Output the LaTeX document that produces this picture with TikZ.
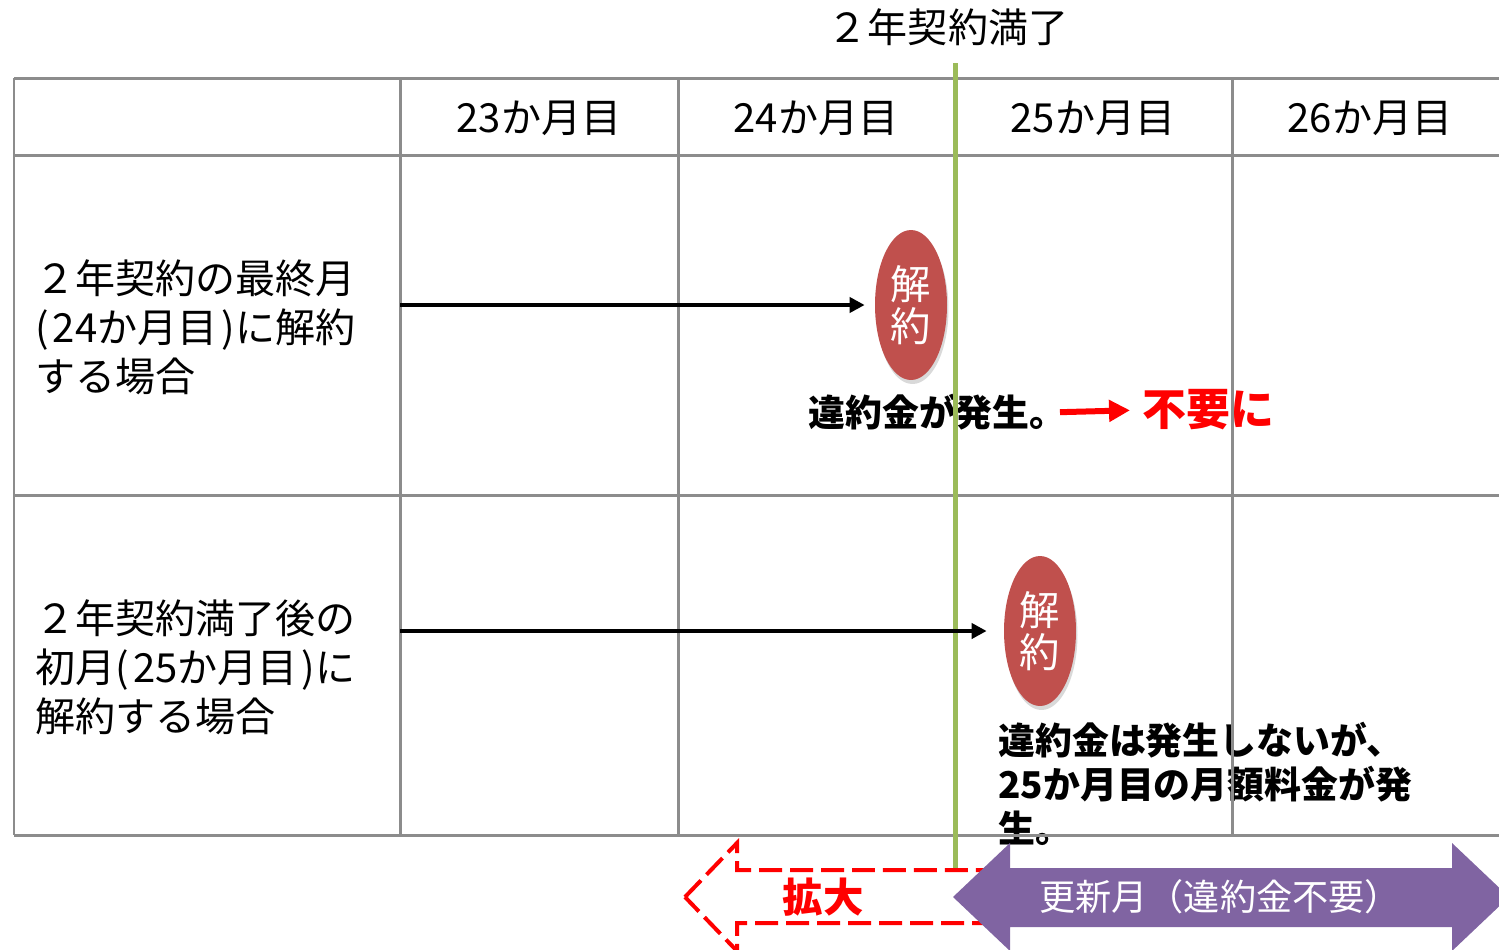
\documentclass[tikz,border=0pt]{standalone}
\usepackage{fontspec}
\setmainfont{Noto Sans CJK JP}
\usepackage{tikz}
\usetikzlibrary{positioning, calc, arrows.meta, shapes.geometric, shadows}
\definecolor{GridColor}{RGB}{140,140,140}
\definecolor{LimitColor}{RGB}{155,187,89}
\definecolor{CancelColor}{RGB}{192,80,77}
\definecolor{RenewColor}{RGB}{128,100,162}
\definecolor{AlertColor}{RGB}{255,0,0}
\tikzset{
    grid line/.style={draw=GridColor, line width=0.06cm},
    head text/.style={font=\fontsize{22.8}{27}\selectfont, inner sep=0pt},
    row text/.style={font=\fontsize{22.8}{28}\selectfont, align=left, anchor=west, inner sep=0pt},
    cancel/.style={
        ellipse,
        fill=CancelColor,
        text=white,
        minimum width=1.44cm,
        minimum height=3cm,
        inner sep=0pt,
        align=center,
        font=\fontsize{23}{24}\selectfont,
        drop shadow={shadow xshift=0.03cm, shadow yshift=-0.08cm, opacity=0.3}
    },
    flow/.style={-{Triangle[length=0.3cm, width=0.3cm]}, line width=0.08cm},
    alert flow/.style={-{Triangle[length=0.42cm, width=0.42cm]}, draw=AlertColor, line width=0.12cm},
    note/.style={font=\bfseries\fontsize{21}{25}\selectfont, inner sep=0pt, anchor=west, align=left}
}

\begin{document}
\begin{tikzpicture}[x=0.02cm, y=-0.02cm]
\clip (0,0) rectangle (1499,950);

% Title
\node[head text] (title) at (948,27) {２年契約満了};

% Notes (under the grid)
\node[note] (n_fee) at (808,412) {違約金が発生。};
\node[font=\bfseries\fontsize{25}{30}\selectfont, text=AlertColor, inner sep=0pt, anchor=west] (n_free) at (1142,410) {不要に};
\draw[alert flow, shorten <=-0.14cm, shorten >=0.24cm] (n_fee.east) -- (n_free.west);

\node[note] (n_month) at (998,784) {違約金は発生しないが、\\25か月目の月額料金が発\\生。};

% Grid
\foreach \y in {78,155,495,835}
    \draw[grid line] (14,\y) -- (1510,\y);
\foreach \x in {14,400,678,955,1232}
    \draw[grid line] (\x,78) -- (\x,835);

% Header
\foreach \m/\x in {23/539, 24/816, 25/1093, 26/1370}
    \node[head text] (h_\m) at (\x,118) {\m か月目};

% Row labels
\node[row text] (r_last) at (35,327) {２年契約の最終月\\(\kern0.1em 24か月目\kern0.1em)に解約\\する場合};
\node[row text] (r_after) at (35,667) {２年契約満了後の\\初月(\kern0.1em 25か月目\kern0.1em)に\\解約する場合};

% Contract limit
\coordinate (g_top) at (955,63);
\coordinate (g_bot) at (955,868);
\draw[LimitColor, line width=0.1cm] (g_top) -- (g_bot);

% Cancellation
\node[cancel] (c_top) at (911,305) {解\\約};
\node[cancel] (c_bot) at (1040,631) {解\\約};

\coordinate (s_top) at (400,305);
\coordinate (s_bot) at (400,631);
\draw[flow, shorten >=0.2cm] (s_top) -- (c_top.west);
\draw[flow, shorten >=0.34cm] (s_bot) -- (c_bot.west);

% Bottom arrows
\draw[AlertColor, line width=0.08cm, dash pattern=on 0.46cm off 0.16cm, line join=miter]
    (685,897) -- (737,843) -- (737,870) -- (990,870) -- (990,923) -- (737,923) -- (737,951) -- cycle;
\node[font=\bfseries\fontsize{23}{26}\selectfont, text=AlertColor] (t_expand) at (823,897) {拡大};

\fill[RenewColor] (953,897) -- (1010,843) -- (1010,868) -- (1452,868) -- (1452,843) -- (1509,897)
    -- (1452,951) -- (1452,927) -- (1010,927) -- (1010,951) -- cycle;
\node[font=\fontsize{20.6}{24}\selectfont, text=white] (t_renew) at (1220,897) {更新月（違約金不要）};

\end{tikzpicture}
\end{document}
